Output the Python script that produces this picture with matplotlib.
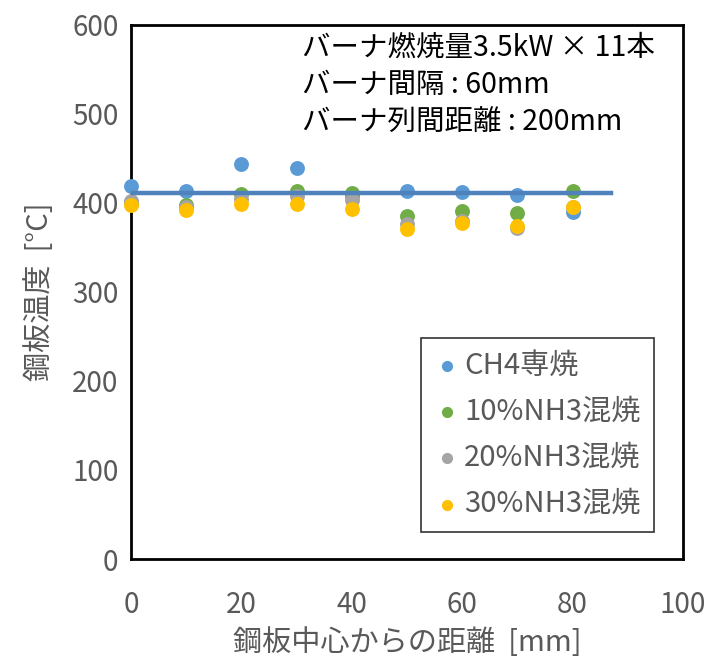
import numpy as np
import matplotlib
matplotlib.use("Agg")
import matplotlib.pyplot as plt

plt.rcParams['font.family'] = ['Noto Sans CJK JP', 'DejaVu Sans']

# =====================================================
# DATA
# =====================================================

distance = [0, 10, 20, 30, 40, 50, 60, 70, 80]

ch4 = [419, 413, 443, 439, 408, 413, 412, 409, 390]
nh3_10 = [400, 397, 410, 413, 411, 385, 391, 388, 413]
nh3_20 = [402, 395, 404, 408, 403, 376, 380, 372, 395]
nh3_30 = [397, 392, 398, 399, 393, 371, 377, 374, 395]

series_labels = ["CH4専焼", "10%NH3混焼", "20%NH3混焼", "30%NH3混焼"]
series_colors = ["#5B9BD5", "#70AD47", "#A5A5A5", "#FFC000"]

trend_x = [0, 87]
trend_y = [410.5, 410.5]

note_lines = [
    "バーナ燃焼量3.5kW × 11本",
    "バーナ間隔 : 60mm",
    "バーナ列間距離 : 200mm",
]

# =====================================================
# PLOT
# =====================================================

fig = plt.figure(figsize=(7.10, 6.59), dpi=100)
ax = fig.add_axes([0.1845, 0.1517, 0.962 - 0.1845, 0.9628 - 0.1517])

for vals, lab, col in zip([ch4, nh3_10, nh3_20, nh3_30], series_labels, series_colors):
    ax.scatter(
        distance,
        vals,
        s=115,
        color=col,
        label=lab,
        clip_on=False,
        zorder=3,
        linewidths=0
    )

ax.plot(trend_x, trend_y, color="#4F81BD", linewidth=3.2, zorder=4)

ax.set_xlim(0, 100)
ax.set_ylim(0, 600)
ax.set_xticks(np.arange(0, 101, 20))
ax.set_yticks(np.arange(0, 601, 100))

gray = "#595959"
ax.tick_params(axis="both", length=0, labelsize=20, labelcolor=gray)
ax.tick_params(axis="x", pad=22)
ax.tick_params(axis="y", pad=9)

for sp in ax.spines.values():
    sp.set_linewidth(2)
    sp.set_color("black")

ax.set_xlabel("鋼板中心からの距離  [mm]", fontsize=21, color=gray, labelpad=6)
ax.set_ylabel("鋼板温度  [°C]", fontsize=21, color=gray, labelpad=12)

ax.text(
    0.31, 0.985,
    "\n".join(note_lines),
    transform=ax.transAxes,
    fontsize=20.5,
    va="top",
    ha="left",
    linespacing=1.32
)

leg = ax.legend(
    loc="lower right",
    bbox_to_anchor=(0.947, 0.05),
    borderaxespad=0,
    fontsize=21,
    frameon=True,
    fancybox=False,
    edgecolor="black",
    handletextpad=0.15,
    handlelength=0.9,
    borderpad=0.45,
    labelspacing=0.55,
    markerscale=0.75
)
leg.get_frame().set_linewidth(1.2)
for t in leg.get_texts():
    t.set_color(gray)

fig.savefig("out.png", dpi=100)
